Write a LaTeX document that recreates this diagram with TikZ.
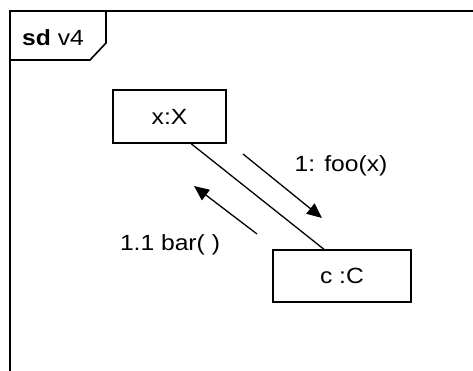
\documentclass[tikz,border=0pt]{standalone}
\usepackage{fontspec}
\setmainfont{Liberation Sans}
\usetikzlibrary{arrows.meta,calc}

\newcommand{\lbl}[1]{\scalebox{1.12}[1]{\fontsize{22}{26}\selectfont #1}}

\tikzset{
  frameline/.style={line width=1.6pt, line cap=rect},
  objbox/.style={draw, line width=1.6pt, rectangle, inner sep=0pt},
  link/.style={line width=1.3pt},
  msg/.style={line width=1.3pt, -{Triangle[length=15pt,width=13pt]}},
  msglabel/.style={inner sep=0pt}
}

\begin{document}
\begin{tikzpicture}[x=1pt, y=-1pt]
  \useasboundingbox (0,0) rectangle (473,371);
  \fill[white] (0,0) rectangle (473,371);

  % sequence frame, open to the right and bottom
  \draw[frameline] (473,11) -- (10,11) -- (10,371);
  % frame name tag
  \draw[frameline] (10,60) -- (90,60) -- (106,43) -- (106,11);
  \node[anchor=base west, inner sep=0pt] (tag) at (22,46)
    {\lbl{\textbf{sd} v4}};

  % objects
  \node[objbox, minimum width=113pt, minimum height=53pt] (X) at (169.5,116.5) {\lbl{x:X}};
  \node[objbox, minimum width=138pt, minimum height=52pt] (C) at (342,276) {\lbl{c :C}};

  % link between the objects
  \draw[link] ($(X.south west)!0.69!(X.south east)$) -- ($(C.north west)!0.37!(C.north east)$);

  % message arrows
  \coordinate (m1s) at (243,154);
  \coordinate (m1e) at (322,218);
  \coordinate (m2s) at (257,234);
  \coordinate (m2e) at (194,186);
  \draw[msg] (m1s) -- (m1e);
  \draw[msg] (m2s) -- (m2e);

  % message labels
  \node[msglabel] (l1) at (341,166) {\lbl{1: foo(x)}};
  \node[msglabel] (l2) at (170,245) {\lbl{1.1 bar( )}};
\end{tikzpicture}
\end{document}
